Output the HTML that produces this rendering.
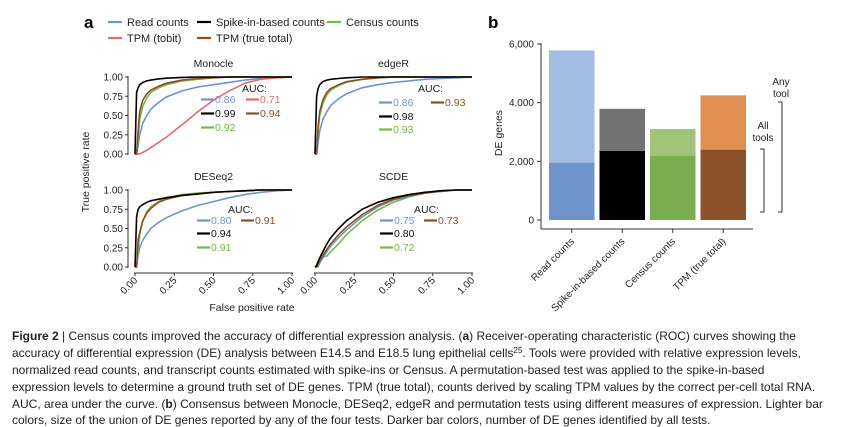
<!DOCTYPE html>
<html><head><meta charset="utf-8"><style>
html,body{margin:0;padding:0;background:#fff;}
svg{display:block;font-family:"Liberation Sans",sans-serif;}
</style></head><body>
<svg id="fig" width="865" height="427" viewBox="0 0 865 427">
<g id="panelA"></g>
<g id="panelB"></g>
<g id="caption" font-size="12" fill="#222">
<text x="12" y="340"><tspan font-weight="bold">Figure 2</tspan> | Census counts improved the accuracy of differential expression analysis. (<tspan font-weight="bold">a</tspan>) Receiver-operating characteristic (ROC) curves showing the</text>
<text x="12" y="357">accuracy of differential expression (DE) analysis between E14.5 and E18.5 lung epithelial cells<tspan font-size="8" dy="-4">25</tspan><tspan dy="4">. Tools were provided with relative expression levels,</tspan></text>
<text x="12" y="374">normalized read counts, and transcript counts estimated with spike-ins or Census. A permutation-based test was applied to the spike-in-based</text>
<text x="12" y="391">expression levels to determine a ground truth set of DE genes. TPM (true total), counts derived by scaling TPM values by the correct per-cell total RNA.</text>
<text x="12" y="408">AUC, area under the curve. (<tspan font-weight="bold">b</tspan>) Consensus between Monocle, DESeq2, edgeR and permutation tests using different measures of expression. Lighter bar</text>
<text x="12" y="424">colors, size of the union of DE genes reported by any of the four tests. Darker bar colors, number of DE genes identified by all tests.</text>
</g>
</svg>
<script>
// ---------- Panel a data ----------
const fpr = [0,0.01,0.02,0.03,0.05,0.075,0.1,0.15,0.2,0.3,0.4,0.5,0.6,0.7,0.8,0.9,1];
const seriesNames = ['Read counts','Spike-in-based counts','Census counts','TPM (tobit)','TPM (true total)'];
const monocleRead  = [0,0,0.1,0.25,0.4,0.5,0.58,0.67,0.74,0.82,0.87,0.9,0.93,0.96,0.98,0.99,1];
const monocleSpike = [0,0.8,0.86,0.9,0.93,0.95,0.96,0.975,0.985,0.995,1,1,1,1,1,1,1];
const monocleCensus= [0,0,0.2,0.45,0.62,0.73,0.8,0.86,0.9,0.95,0.97,0.99,1,1,1,1,1];
const monocleTobit = [0,0,0,0,0.02,0.05,0.08,0.15,0.22,0.38,0.55,0.7,0.82,0.92,0.97,0.99,1];
const monocleTrue  = [0,0,0.3,0.55,0.7,0.78,0.83,0.88,0.92,0.96,0.98,0.99,1,1,1,1,1];
const edgeRRead    = [0,0,0.15,0.3,0.45,0.55,0.63,0.72,0.78,0.86,0.9,0.93,0.95,0.97,0.98,0.99,1];
const edgeRSpike   = [0,0.75,0.85,0.9,0.94,0.96,0.97,0.98,0.99,1,1,1,1,1,1,1,1];
const edgeRCensus  = [0,0,0.3,0.5,0.66,0.77,0.83,0.89,0.93,0.97,0.99,1,1,1,1,1,1];
const edgeRTrue    = [0,0,0.35,0.55,0.7,0.8,0.85,0.9,0.94,0.97,0.99,1,1,1,1,1,1];
const deseqRead    = [0,0,0.15,0.25,0.35,0.43,0.5,0.58,0.64,0.73,0.8,0.85,0.9,0.94,0.97,0.99,1];
const deseqSpike   = [0,0.65,0.75,0.78,0.81,0.84,0.86,0.88,0.9,0.93,0.95,0.97,0.98,0.99,1,1,1];
const deseqCensus  = [0,0,0.2,0.42,0.6,0.72,0.78,0.85,0.9,0.94,0.96,0.97,0.98,0.99,1,1,1];
const deseqTrue    = [0,0,0.35,0.45,0.6,0.7,0.76,0.84,0.88,0.93,0.95,0.97,0.98,0.99,1,1,1];
const scdeRead     = [0,0,0.02,0.06,0.12,0.2,0.27,0.38,0.48,0.65,0.78,0.87,0.92,0.96,0.98,1,1];
const scdeSpike    = [0,0.02,0.07,0.12,0.2,0.3,0.38,0.5,0.6,0.75,0.84,0.9,0.94,0.97,0.99,1,1];
const scdeCensus   = [0,0,0,0.05,0.13,0.14,0.2,0.3,0.42,0.6,0.74,0.84,0.91,0.96,0.98,1,1];
const scdeTrue     = [0,0,0.04,0.08,0.15,0.23,0.3,0.42,0.52,0.68,0.8,0.88,0.93,0.96,0.99,1,1];
const rocTicks = ['0.00','0.25','0.50','0.75','1.00'];
const rocTickVals = [0,0.25,0.5,0.75,1];
const monocleAUC = ['0.86','0.99','0.92','0.71','0.94'];
const edgeRAUC = ['0.86','0.98','0.93','0.93'];
const deseqAUC = ['0.80','0.94','0.91','0.91'];
const scdeAUC = ['0.75','0.80','0.72','0.73'];
// ---------- Panel b data ----------
const barCats = ['Read counts','Spike-in-based counts','Census counts','TPM (true total)'];
const anyTool = [5780,3790,3100,4250];
const allTools = [1950,2350,2180,2390];
const barTicks = ['0','2,000','4,000','6,000'];
const barTickVals = [0,2000,4000,6000];

const NS='http://www.w3.org/2000/svg';
const COL={read:'#6f94cb',spike:'#000000',census:'#7ab648',tobit:'#e06b6b',true:'#8a4f27'};
function mk(tag,attrs,parent,txt){const e=document.createElementNS(NS,tag);for(const k in attrs)e.setAttribute(k,attrs[k]);if(txt!==undefined)e.textContent=txt;parent.appendChild(e);return e;}
const A=document.getElementById('panelA');
const B=document.getElementById('panelB');

let t=mk('text',{x:84,y:28,'font-size':17,'font-weight':'bold'},A,'a');

const legItems=[[108,22,COL.read,seriesNames[0]],[197,22,COL.spike,seriesNames[1]],[327,22,COL.census,seriesNames[2]],[108,38,COL.tobit,seriesNames[3]],[197,38,COL.true,seriesNames[4]]];
legItems.forEach(li=>{
  const g=mk('g',{},A);
  
  
  mk('line',{x1:li[0],x2:li[0]+14,y1:li[1],y2:li[1],stroke:li[2],'stroke-width':2.2},g);
  mk('text',{x:li[0]+19,y:li[1]+4,'font-size':11,fill:'#222'},g,li[3]);
});

function rocPanel(name,x0,x1,y0,y1,series,title,auc,showX,showY){
  const g=mk('g',{},A);
  
  
  const sx=v=>x0+v*(x1-x0), sy=v=>y0-v*(y0-y1);
  mk('text',{x:(x0+x1)/2,y:y1-10,'font-size':10.5,'text-anchor':'middle',fill:'#222'},g,title);
  const ax=x0-7;
  if(showY){
    mk('line',{x1:ax,x2:ax,y1:sy(1)-1,y2:sy(0)+1,stroke:'#333','stroke-width':1},g);
    rocTickVals.forEach((v,i)=>{
      mk('line',{x1:ax-3,x2:ax,y1:sy(v),y2:sy(v),stroke:'#333'},g);
      mk('text',{x:ax-5,y:sy(v)+3.5,'font-size':10,'text-anchor':'end',fill:'#222'},g,rocTicks[i]);
    });
  }
  if(showX){
    const by=y0+6;
    mk('line',{x1:sx(0)-1,x2:sx(1)+1,y1:by,y2:by,stroke:'#333'},g);
    rocTickVals.forEach((v,i)=>{
      mk('line',{x1:sx(v),x2:sx(v),y1:by,y2:by+3,stroke:'#333'},g);
      mk('text',{x:sx(v)+3,y:by+8,'font-size':10,'text-anchor':'end',fill:'#222',transform:`rotate(-45 ${sx(v)+3} ${by+8})`},g,rocTicks[i]);
    });
  }
  series.forEach(s=>{
    const d=fpr.map((f,i)=>(i?'L':'M')+sx(f).toFixed(1)+','+sy(s[0][i]).toFixed(1)).join('');
    const p=mk('path',{d:d,fill:'none',stroke:s[1],'stroke-width':1.6},g);
    
    
  });
  const ag=mk('g',{},g);
  
  
  mk('text',{x:auc.x,y:auc.y,'font-size':10.5,fill:'#222'},ag,'AUC:');
  auc.items.forEach(it=>{
    mk('line',{x1:it[0],x2:it[0]+13,y1:it[1]-3.5,y2:it[1]-3.5,stroke:it[2],'stroke-width':2.2},ag);
    mk('text',{x:it[0]+14,y:it[1],'font-size':10.5,fill:it[3]},ag,it[4]);
  });
}
const TXT={read:'#6f94cb',spike:'#111',census:'#7ab648',tobit:'#e06b6b',true:'#8a4f27'};
rocPanel('monocle',135,292,154,77,[[monocleRead,COL.read,'read'],[monocleTobit,COL.tobit,'tobit'],[monocleCensus,COL.census,'census'],[monocleTrue,COL.true,'true'],[monocleSpike,COL.spike,'spike']],'Monocle',
 {x:242,y:92,items:[[201,103,COL.read,TXT.read,monocleAUC[0]],[246,103,COL.tobit,TXT.tobit,monocleAUC[3]],[201,117,COL.spike,TXT.spike,monocleAUC[1]],[246,117,COL.true,TXT.true,monocleAUC[4]],[201,131,COL.census,TXT.census,monocleAUC[2]]]},false,true);
rocPanel('edger',315,472,154,77,[[edgeRRead,COL.read,'read'],[edgeRCensus,COL.census,'census'],[edgeRTrue,COL.true,'true'],[edgeRSpike,COL.spike,'spike']],'edgeR',
 {x:418,y:92,items:[[379,106,COL.read,TXT.read,edgeRAUC[0]],[431,106,COL.true,TXT.true,edgeRAUC[3]],[379,120,COL.spike,TXT.spike,edgeRAUC[1]],[379,133,COL.census,TXT.census,edgeRAUC[2]]]},false,false);
rocPanel('deseq2',135,292,267,190,[[deseqRead,COL.read,'read'],[deseqCensus,COL.census,'census'],[deseqTrue,COL.true,'true'],[deseqSpike,COL.spike,'spike']],'DESeq2',
 {x:228,y:213,items:[[197,224,COL.read,TXT.read,deseqAUC[0]],[241,224,COL.true,TXT.true,deseqAUC[3]],[197,237,COL.spike,TXT.spike,deseqAUC[1]],[197,251,COL.census,TXT.census,deseqAUC[2]]]},true,true);
rocPanel('scde',315,472,267,190,[[scdeCensus,COL.census,'census'],[scdeRead,COL.read,'read'],[scdeTrue,COL.true,'true'],[scdeSpike,COL.spike,'spike']],'SCDE',
 {x:414,y:213,items:[[380,224,COL.read,TXT.read,scdeAUC[0]],[424,224,COL.true,TXT.true,scdeAUC[3]],[380,237,COL.spike,TXT.spike,scdeAUC[1]],[380,251,COL.census,TXT.census,scdeAUC[2]]]},true,false);
t=mk('text',{x:89,y:172,'font-size':10.5,'text-anchor':'middle',fill:'#222',transform:'rotate(-90 89 172)'},A,'True positive rate');

t=mk('text',{x:252,y:311,'font-size':10.5,'text-anchor':'middle',fill:'#222'},A,'False positive rate');


// ---------- Panel b ----------
t=mk('text',{x:488,y:28,'font-size':17,'font-weight':'bold'},B,'b');

const bY0=220,bY1=44,bMax=6000;
const by=v=>bY0-v/bMax*(bY0-bY1);
const bx0=545, step=50.5, bw=45.5;
const light=['#a3bce2','#737373','#a2c47a','#e08f52'];
const dark=['#6f94cb','#000000','#7aad4d','#8a512a'];
mk('line',{x1:541,x2:541,y1:by(6000)-1,y2:229,stroke:'#333'},B);
mk('line',{x1:541,x2:753,y1:229,y2:229,stroke:'#333'},B);
barTickVals.forEach((v,i)=>{
  mk('line',{x1:537,x2:541,y1:by(v),y2:by(v),stroke:'#333'},B);
  mk('text',{x:534,y:by(v)+3.5,'font-size':10,'text-anchor':'end',fill:'#222'},B,barTicks[i]);
});
barCats.forEach((c,i)=>{
  const x=bx0+4+i*step;
  const r1=mk('rect',{x:x,y:by(anyTool[i]),width:bw,height:by(0)-by(anyTool[i]),fill:light[i]},B);
  
  
  const r2=mk('rect',{x:x,y:by(allTools[i]),width:bw,height:by(0)-by(allTools[i]),fill:dark[i]},B);
  
  
  const cx=x+bw/2;
  mk('line',{x1:cx,x2:cx,y1:229,y2:233,stroke:'#333'},B);
  const tl=mk('text',{x:cx+3,y:242,'font-size':10,'text-anchor':'end',fill:'#222',transform:`rotate(-45 ${cx+3} 242)`},B,c);
  
  
});
t=mk('text',{x:502,y:133,'font-size':10.5,'text-anchor':'middle',fill:'#222',transform:'rotate(-90 502 133)'},B,'DE genes');

const br1=mk('path',{d:'M778,102 H782 V212 H778',fill:'none',stroke:'#333'},B);

const br2=mk('path',{d:'M760,149 H764 V212 H760',fill:'none',stroke:'#333'},B);

mk('text',{x:781,y:85,'font-size':10,'text-anchor':'middle',fill:'#222'},B,'Any');
mk('text',{x:781,y:97,'font-size':10,'text-anchor':'middle',fill:'#222'},B,'tool');
mk('text',{x:763,y:129,'font-size':10,'text-anchor':'middle',fill:'#222'},B,'All');
mk('text',{x:763,y:141,'font-size':10,'text-anchor':'middle',fill:'#222'},B,'tools');
</script>
</body></html>
